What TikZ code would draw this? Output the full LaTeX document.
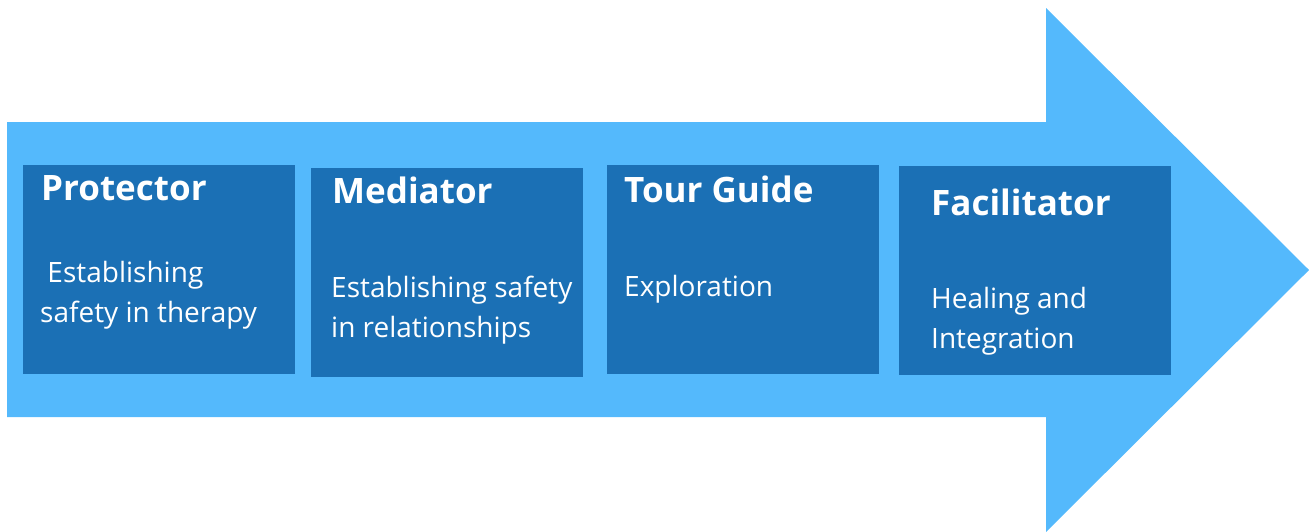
\documentclass[tikz,border=0pt]{standalone}
\usepackage{fontspec}
\setmainfont{Open Sans}
\usetikzlibrary{positioning}
\definecolor{arrowblue}{RGB}{84,185,252}
\definecolor{boxblue}{RGB}{27,112,181}
\tikzset{
    stage/.style={fill=boxblue, draw=none, inner sep=0pt, minimum width=272pt, minimum height=209pt, anchor=north west},
    stagetitle/.style={anchor=base west, text=white, inner sep=0pt, font=\fontsize{35}{40}\selectfont\bfseries},
    stagetext/.style={anchor=base west, text=white, inner sep=0pt, align=left, font=\fontsize{28}{40}\selectfont}
}

\begin{document}
\begin{tikzpicture}[x=1pt,y=-1pt]
    \useasboundingbox (0,0) rectangle (1309,531);

    % big arrow behind the stages
    \fill[arrowblue] (7,122) -- (1046,122) -- (1046,8) -- (1309,270)
        -- (1046,532) -- (1046,417) -- (7,417) -- cycle;

    % the four stages
    \node[stage] (prot) at (23,165) {};
    \node[stage] (medi) at (311,168) {};
    \node[stage] (tour) at (607,165) {};
    \node[stage] (faci) at (899,166) {};

    % titles
    \node[stagetitle] (protT) at (41,200) {Protector};
    \node[stagetitle] (mediT) at (332,203) {Mediator};
    \node[stagetitle] (tourT) at (624,202) {Tour Guide};
    \node[stagetitle] (faciT) at (931,215) {Facilitator};

    % descriptions (base = last line)
    \node[stagetext] (protD) at (40,322) {\ Establishing\\safety in therapy};
    \node[stagetext] (mediD) at (331,337) {Establishing safety\\in relationships};
    \node[stagetext] (tourD) at (624,296) {Exploration};
    \node[stagetext] (faciD) at (931,348) {Healing and\\Integration};
\end{tikzpicture}
\end{document}
